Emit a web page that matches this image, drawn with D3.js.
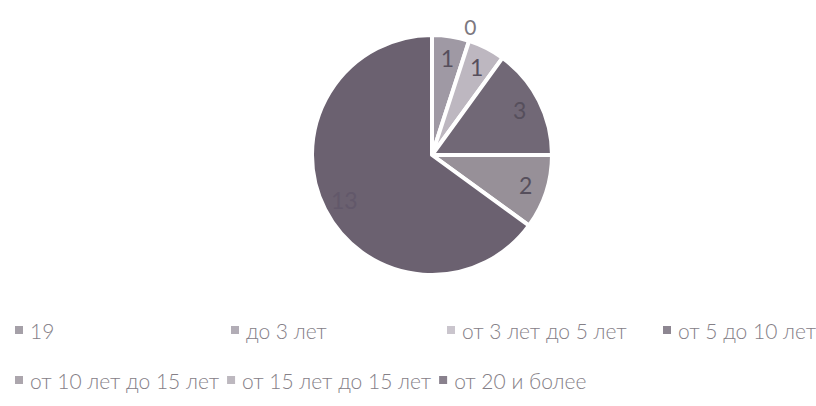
<!DOCTYPE html>
<html>
<head>
<meta charset="utf-8">
<script src="https://cdn.jsdelivr.net/npm/d3@7"></script>
<style>
  html, body { margin: 0; padding: 0; background: #fff; }
  #chart { width: 816px; height: 406px; }
  text { font-family: Lato, "Open Sans", sans-serif; }
</style>
</head>
<body>
<div id="chart"></div>
<script>
const width = 816;
const height = 406;

// data
const categories = ["19", "до 3 лет", "от 3 лет до 5 лет", "от 5 до 10 лет",
  "от 10 лет до 15 лет", "от 15 лет до 15 лет", "от 20 и более"];
const values = [0, 1, 1, 3, 2, 0, 13];
const shownZeroLabels = ["19"];

const colors = ["#8e8892", "#9f99a4", "#bdb7c0", "#716876", "#979098", "#aca6af", "#6b6170"];

const svg = d3.select("#chart")
  .append("svg")
  .attr("width", width)
  .attr("height", height)
  .attr("viewBox", `0 0 ${width} ${height}`);

const color = d3.scaleOrdinal().domain(categories).range(colors);

const cx = 432, cy = 155, r = 120;

const data = categories.map((c, i) => ({ name: c, value: values[i] }));
const arcs = d3.pie().sort(null).value(d => d.value)(data);
const arc = d3.arc().innerRadius(0).outerRadius(r);
const labelArc = d3.arc().innerRadius(r * 0.82).outerRadius(r * 0.82);

const g = svg.append("g").attr("transform", `translate(${cx},${cy})`);

g.selectAll("path")
  .data(arcs.filter(d => d.data.value > 0))
  .join("path")
  .attr("d", arc)
  .attr("fill", d => color(d.data.name))
  .attr("stroke", "#fff")
  .attr("stroke-width", 4)
  .attr("stroke-linejoin", "round");

g.selectAll(".lbl")
  .data(arcs.filter(d => d.data.value > 0))
  .join("text")
  .attr("class", "lbl")
  .attr("transform", d => `translate(${labelArc.centroid(d)})`)
  .attr("text-anchor", "middle")
  .attr("dominant-baseline", "central")
  .attr("font-size", 23)
  .attr("fill", d => d.data.value > 5 ? "#62586a" : "#564f5c")
  .text(d => d.data.value);

// zero-valued slice label sits outside, just right of the top
const outer = d3.arc().innerRadius(r * 1.12).outerRadius(r * 1.12);
g.selectAll(".zero")
  .data(arcs.filter(d => d.data.value === 0 && shownZeroLabels.includes(d.data.name)))
  .join("text")
  .attr("class", "zero")
  .attr("transform", d => {
    const a = d.startAngle + 0.29;
    const [x, y] = outer.centroid({ startAngle: a, endAngle: a });
    return `translate(${x},${y})`;
  })
  .attr("text-anchor", "middle")
  .attr("dominant-baseline", "central")
  .attr("font-size", 21)
  .attr("fill", "#7c7880")
  .text(d => d.data.value);

// legend
const legend = svg.append("g");
const fontSize = 21;
const row1 = categories.slice(0, 4);
const row2 = categories.slice(4);

function item(sel, name, x, y) {
  const it = sel.append("g").attr("transform", `translate(${x},${y})`);
  it.append("rect")
    .attr("x", 0).attr("y", -4)
    .attr("width", 8).attr("height", 8)
    .attr("fill", color(name))
    .attr("opacity", 0.8);
  const t = it.append("text")
    .attr("x", 15)
    .attr("dominant-baseline", "central")
    .attr("font-size", fontSize)
    .attr("font-weight", 300)
    .attr("fill", "#858087")
    .text(name);
  return 15 + t.node().getComputedTextLength();
}

row1.forEach((name, i) => item(legend, name, 15 + i * 216, 330));

let x = 15;
row2.forEach(name => {
  const w = item(legend, name, x, 380);
  x += w + 8;
});
</script>
</body>
</html>
